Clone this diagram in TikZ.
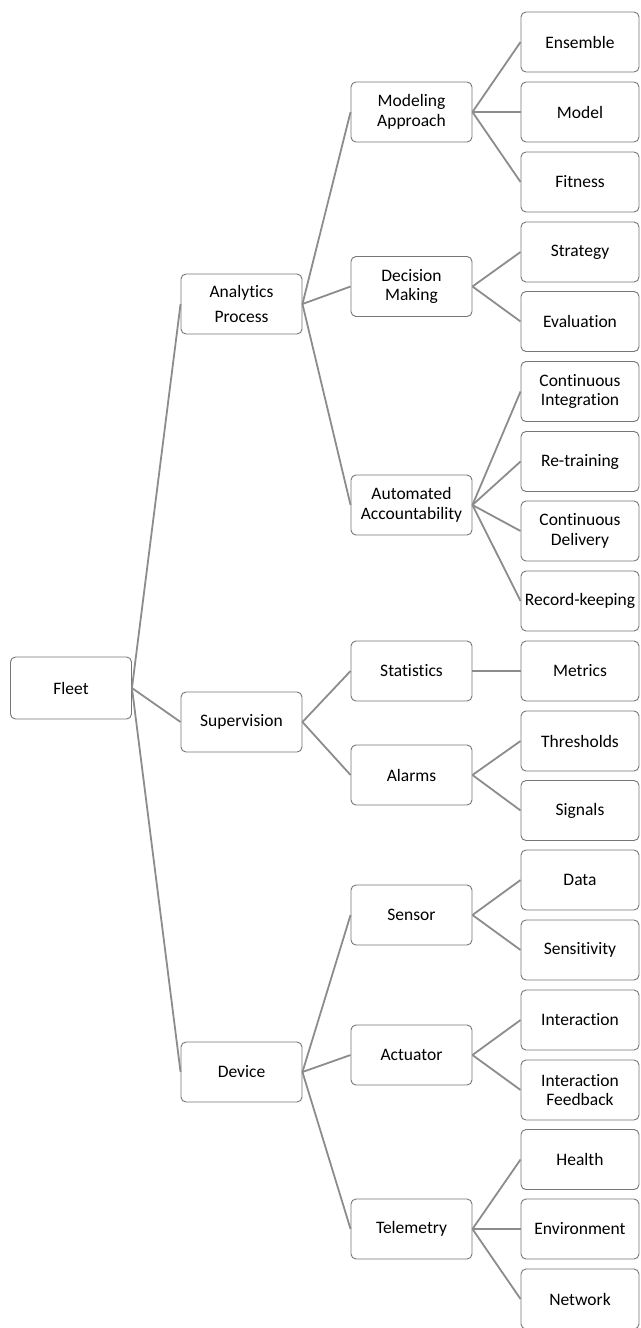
\documentclass[tikz,border=0pt]{standalone}
\usepackage{fontspec}
\setmainfont{Carlito}[Ligatures=NoCommon]
\definecolor{boxline}{RGB}{118,118,118}
\definecolor{conn}{RGB}{140,140,140}
\begin{document}
\begin{tikzpicture}[x=1pt,y=-1pt,
  box/.style={draw=boxline, line width=0.9pt, rounded corners=5pt, fill=white,
    minimum width=121pt, minimum height=60pt, align=center, inner sep=1pt,
    font=\fontsize{17.5}{19.5}\selectfont},
  leaf/.style={box, minimum width=118pt},
  link/.style={draw=conn, line width=1.8pt}]
\useasboundingbox (0,0) rectangle (640,1328);
% root
\node[box, minimum height=62pt] (fleet) at (71,688) {Fleet};
% level 1
\node[box] (ap) at (241.5,304) {Analytics\\[6pt]Process};
\node[box] (sup) at (241.5,722) {Supervision};
\node[box] (dev) at (241.5,1072) {Device};
% level 2
\node[box] (ma) at (411.5,112) {Modeling\\Approach};
\node[box] (dm) at (411.5,286.5) {Decision\\Making};
\node[box] (aa) at (411.5,505) {Automated\\Accountability};
\node[box] (st) at (411.5,671) {Statistics};
\node[box] (al) at (411.5,775) {Alarms};
\node[box] (se) at (411.5,915) {Sensor};
\node[box] (ac) at (411.5,1055) {Actuator};
\node[box] (te) at (411.5,1229) {Telemetry};
% level 3
\node[leaf] (l1) at (580,42) {Ensemble};
\node[leaf] (l2) at (580,112) {Model};
\node[leaf] (l3) at (580,182) {Fitness};
\node[leaf] (l4) at (580,252) {Strategy};
\node[leaf] (l5) at (580,321.5) {Evaluation};
\node[leaf] (l6) at (580,391.5) {Continuous\\Integration};
\node[leaf] (l7) at (580,461.5) {Re-training};
\node[leaf] (l8) at (580,531) {Continuous\\Delivery};
\node[leaf] (l9) at (580,601) {Record-keeping};
\node[leaf] (l10) at (580,671) {Metrics};
\node[leaf] (l11) at (580,741) {Thresholds};
\node[leaf] (l12) at (580,810.5) {Signals};
\node[leaf] (l13) at (580,880) {Data};
\node[leaf] (l14) at (580,950) {Sensitivity};
\node[leaf] (l15) at (580,1020) {Interaction};
\node[leaf] (l16) at (580,1090) {Interaction\\Feedback};
\node[leaf] (l17) at (580,1159.5) {Health};
\node[leaf] (l18) at (580,1229) {Environment};
\node[leaf] (l19) at (580,1299) {Network};
% connectors
\foreach \a/\b in {fleet/ap, fleet/sup, fleet/dev,
  ap/ma, ap/dm, ap/aa, sup/st, sup/al, dev/se, dev/ac, dev/te,
  ma/l1, ma/l2, ma/l3, dm/l4, dm/l5, aa/l6, aa/l7, aa/l8, aa/l9,
  st/l10, al/l11, al/l12, se/l13, se/l14, ac/l15, ac/l16,
  te/l17, te/l18, te/l19}
  \draw[link] (\a.east) -- (\b.west);
\end{tikzpicture}
\end{document}
